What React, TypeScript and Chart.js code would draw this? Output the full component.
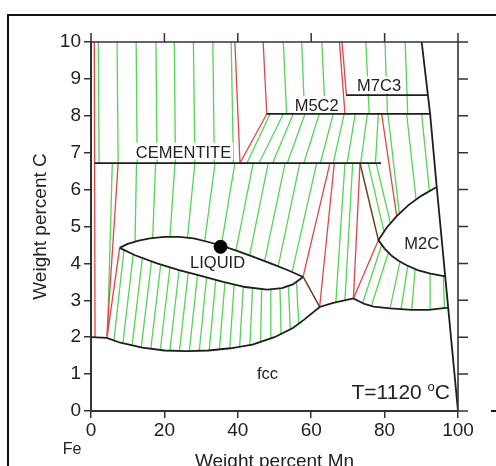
import React, { useEffect, useRef } from "react";
import { Chart, registerables } from "chart.js";

Chart.register(...registerables);

const FONT = '"Liberation Sans", Arial, Helvetica, sans-serif';

// ---- axes ----
const xTickValues = [0, 20, 40, 60, 80, 100];
const yTickValues = [0, 1, 2, 3, 4, 5, 6, 7, 8, 9, 10];
const xTitle = "Weight percent Mn";
const yTitle = "Weight percent C";
const feLabel = "Fe";
const tempLabel = ["T=1120 ", "o", "C"];

// ---- phase boundaries (black polylines) ----
const fccBoundary = [
  [0, 2.0], [4.3, 1.98], [8, 1.85], [14, 1.72], [20, 1.64], [26, 1.62], [32, 1.64],
  [38, 1.7], [44, 1.8], [50, 2.0], [55, 2.25], [58, 2.47], [62.3, 2.82], [66, 2.93],
  [71.5, 3.05], [74.5, 2.9], [77, 2.83], [81.5, 2.78], [87.4, 2.74], [92, 2.74], [97.3, 2.8],
];
const liquidUpper = [
  [7.8, 4.42], [10, 4.53], [13, 4.62], [16, 4.68], [20, 4.72], [24, 4.72], [28, 4.68],
  [32, 4.58], [35.5, 4.48], [40, 4.33], [45, 4.15], [50, 3.96], [54, 3.8], [57.8, 3.63],
];
const liquidLower = [
  [7.8, 4.42], [12, 4.22], [18, 4.0], [24, 3.82], [30, 3.66], [36, 3.5], [42, 3.36],
  [48, 3.29], [52, 3.33], [55, 3.43], [57.8, 3.63],
];
const m2cUpper = [[78.3, 4.63], [80.5, 4.96], [83.3, 5.28], [86.5, 5.58], [90, 5.83], [94.2, 6.07]];
const m2cLower = [[78.3, 4.63], [80, 4.4], [82, 4.2], [84, 4.06], [86, 3.95], [89, 3.82], [92.5, 3.72], [96.5, 3.65]];
const rightBoundary = [[90.1, 10], [92.4, 8.05], [94.2, 6.07], [100, 0]];
const cementiteLine = [[1.0, 6.72], [79.0, 6.72]];
const m5c2Line = [[47.9, 8.05], [92.4, 8.05]];
const m7c3Line = [[69.5, 8.56], [91.9, 8.56]];

// ---- three-phase triangle edges ----
const redLines = [
  [0.9, 10, 1.1, 2.0], [7.4, 6.72, 4.3, 2.0], [7.8, 4.42, 4.4, 2.02],
  [39.2, 10, 40.6, 6.72], [40.6, 6.72, 47.9, 8.05], [46.9, 10, 47.9, 8.05],
  [67.7, 10, 69.2, 8.05], [68.4, 10, 69.6, 8.56],
  [65.1, 6.72, 57.8, 3.64], [66.3, 6.72, 62.3, 2.82],
  [73.3, 6.72, 71.5, 3.05], [78.3, 4.63, 71.5, 3.05], [79.2, 8.05, 83.3, 5.28],
];
const brownLines = [[57.8, 3.64, 62.3, 2.82], [73.3, 6.72, 78.3, 4.63]];

// ---- tie lines (green) ----
const tiesGraphiteCementite = [
  [2.0, 10, 2.2, 6.72], [7.1, 10, 7.4, 6.72], [12.3, 10, 12.6, 6.72], [17.7, 10, 18.0, 6.72],
  [22.7, 10, 23.0, 6.72], [27.9, 10, 28.3, 6.72], [33.2, 10, 33.6, 6.72], [38.2, 10, 38.8, 6.72],
];
const tiesGraphiteFcc = [[5.8, 6.72, 4.5, 2.05]];
const tiesCementiteLiquid = [
  [12.4, 6.72, 12.0, 4.61], [17.6, 6.72, 16.8, 4.69], [22.9, 6.72, 21.5, 4.72],
  [28.3, 6.72, 26.3, 4.7], [33.8, 6.72, 31.0, 4.61], [39.2, 6.72, 35.5, 4.48],
  [44.2, 6.72, 39.5, 4.35], [48.3, 6.72, 43.2, 4.21], [52.9, 6.72, 47.3, 4.06],
  [56.9, 6.72, 51.0, 3.92], [61.5, 6.72, 54.8, 3.77],
];
const tiesLiquidFcc = [
  [9, 4.37, 6.2, 1.88], [11.5, 4.24, 8.7, 1.83], [14, 4.15, 11.2, 1.78], [16.5, 4.06, 13.7, 1.73],
  [19, 3.97, 16.3, 1.69], [21.5, 3.89, 18.9, 1.66], [24, 3.82, 21.5, 1.64], [26.5, 3.75, 24.1, 1.63],
  [29, 3.68, 26.8, 1.62], [31.5, 3.62, 29.5, 1.63], [34, 3.55, 32.2, 1.64], [36.5, 3.49, 35, 1.67],
  [39, 3.43, 37.8, 1.7], [41.5, 3.37, 40.5, 1.74], [44, 3.32, 43.3, 1.79], [46.5, 3.3, 46.2, 1.86],
  [49, 3.29, 49, 1.95], [51.5, 3.32, 51.8, 2.07], [53.8, 3.39, 54.3, 2.2], [56, 3.5, 56.6, 2.36],
];
const tiesM5C2Graphite = [[52.4, 10, 53.3, 8.05], [57.4, 10, 58.2, 8.05], [62.9, 10, 63.8, 8.05]];
const tiesM7C3 = [[74.9, 10, 75.8, 8.05], [80.1, 10, 80.8, 8.05], [85.6, 10, 86.3, 8.05]];
const tiesM5C2Cementite = [
  [48.8, 8.05, 42.5, 6.72], [52.4, 8.05, 45.8, 6.72], [55.1, 8.05, 49.5, 6.72],
  [58.3, 8.05, 53.5, 6.72], [62.2, 8.05, 58.0, 6.72], [66.0, 8.05, 62.5, 6.72],
  [69.0, 8.05, 66.0, 6.72], [72.0, 8.05, 69.8, 6.72], [75.3, 8.05, 73.5, 6.72],
  [78.3, 8.05, 77.5, 6.72],
];
const tiesFccCementite = [[69.2, 6.72, 66.7, 2.93], [71.3, 6.72, 69.2, 3.0]];
const tiesCementiteM2C = [[75.5, 6.72, 79.8, 4.88], [77.7, 6.72, 81.6, 5.08]];
const tiesM5C2M2C = [[80.9, 8.05, 84.0, 5.37], [86.0, 8.05, 88.6, 5.72], [90.1, 8.05, 92.2, 5.96]];
const tiesFccM2C = [
  [74.0, 2.92, 79.2, 4.5], [76.5, 2.88, 81.0, 4.28], [81.5, 2.78, 84.2, 4.05],
  [84.5, 2.76, 86.3, 3.94], [87.4, 2.74, 88.3, 3.85], [92.4, 2.74, 92.4, 3.72], [96.3, 2.79, 96.0, 3.65],
];

// ---- annotations ----
const phaseNames = ["CEMENTITE", "M5C2", "M7C3", "LIQUID", "M2C", "fcc"];
const phaseAt = [[25.2, 7.03], [61.5, 8.29], [78.5, 8.82], [34.5, 4.04], [90.1, 4.54], [48.1, 1.02]];
const phaseWhiteBox = [true, true, true, false, false, false];
const alloyPoint = [{ x: 35.3, y: 4.45 }];
const tempAt = [84.4, 0.52];

function segs(list: number[][]) {
  const out: any[] = [];
  list.forEach((s) => {
    out.push({ x: s[0], y: s[1] });
    out.push({ x: s[2], y: s[3] });
    out.push({ x: s[2], y: null });
  });
  return out;
}
function polys(list: number[][][]) {
  const out: any[] = [];
  list.forEach((p) => {
    p.forEach((q) => out.push({ x: q[0], y: q[1] }));
    out.push({ x: p[p.length - 1][0], y: null });
  });
  return out;
}

const decor = {
  id: "decor",
  afterDatasetsDraw(chart: any) {
    const ctx = chart.ctx;
    const xs = chart.scales.x;
    const ys = chart.scales.y;
    ctx.save();
    const size = 16.5;
    ctx.font = `${size}px ${FONT}`;
    ctx.textAlign = "center";
    ctx.textBaseline = "alphabetic";
    phaseNames.forEach((name, i) => {
      const px = xs.getPixelForValue(phaseAt[i][0]);
      const py = ys.getPixelForValue(phaseAt[i][1]);
      const w = ctx.measureText(name).width;
      const cap = size * 0.72;
      if (phaseWhiteBox[i]) {
        ctx.fillStyle = "#fff";
        ctx.fillRect(px - w / 2 - 2, py - cap / 2 - 3, w + 4, cap + 5);
      }
      ctx.fillStyle = "#222";
      ctx.fillText(name, px, py + cap / 2);
    });
    ctx.restore();
  },
  afterDraw(chart: any) {
    const ctx = chart.ctx;
    const a = chart.chartArea;
    const xs = chart.scales.x;
    const ys = chart.scales.y;
    ctx.save();
    // outer frame
    ctx.strokeStyle = "#111";
    ctx.lineWidth = 2;
    ctx.beginPath();
    ctx.moveTo(8, 470);
    ctx.lineTo(8, 15);
    ctx.lineTo(500, 15);
    ctx.stroke();
    ctx.beginPath();
    ctx.moveTo(491, 411);
    ctx.lineTo(496, 411);
    ctx.stroke();
    // top and right axes
    ctx.strokeStyle = "#333";
    ctx.lineWidth = 1.6;
    ctx.beginPath();
    ctx.moveTo(a.left, a.top);
    ctx.lineTo(a.right, a.top);
    ctx.lineTo(a.right, a.bottom);
    ctx.stroke();
    ctx.lineWidth = 1.5;
    ctx.beginPath();
    xTickValues.forEach((v) => {
      const px = xs.getPixelForValue(v);
      ctx.moveTo(px, a.top);
      ctx.lineTo(px, a.top - 9);
    });
    yTickValues.forEach((v) => {
      const py = ys.getPixelForValue(v);
      ctx.moveTo(a.right, py);
      ctx.lineTo(a.right + 10, py);
    });
    ctx.stroke();
    // titles
    ctx.fillStyle = "#222";
    ctx.font = `19px ${FONT}`;
    ctx.textAlign = "center";
    ctx.textBaseline = "alphabetic";
    ctx.fillText(xTitle, (a.left + a.right) / 2, 467);
    ctx.save();
    ctx.translate(46, (a.top + a.bottom) / 2);
    ctx.rotate(-Math.PI / 2);
    ctx.fillText(yTitle, 0, 0);
    ctx.restore();
    // Fe
    ctx.font = `16px ${FONT}`;
    ctx.fillText(feLabel, 72, 454);
    // temperature
    const big = `21px ${FONT}`;
    const small = `13px ${FONT}`;
    ctx.font = big;
    const w1 = ctx.measureText(tempLabel[0]).width;
    const w3 = ctx.measureText(tempLabel[2]).width;
    ctx.font = small;
    const w2 = ctx.measureText(tempLabel[1]).width;
    const cx = xs.getPixelForValue(tempAt[0]);
    const base = ys.getPixelForValue(tempAt[1]) + 7.3;
    let x0 = cx - (w1 + w2 + w3) / 2;
    ctx.textAlign = "left";
    ctx.font = big;
    ctx.fillText(tempLabel[0], x0, base);
    x0 += w1;
    ctx.font = small;
    ctx.fillText(tempLabel[1], x0, base - 8);
    x0 += w2;
    ctx.font = big;
    ctx.fillText(tempLabel[2], x0, base);
    ctx.restore();
  },
};

const GREEN = "#55d455";
const RED = "#e04545";

export default function App() {
  const ref = useRef<HTMLCanvasElement | null>(null);
  useEffect(() => {
    if (!ref.current) return;
    const green = [
      ...tiesGraphiteCementite, ...tiesGraphiteFcc, ...tiesCementiteLiquid, ...tiesLiquidFcc,
      ...tiesM5C2Graphite, ...tiesM7C3, ...tiesM5C2Cementite, ...tiesFccCementite,
      ...tiesCementiteM2C, ...tiesM5C2M2C, ...tiesFccM2C,
    ];
    const base = { showLine: true, pointRadius: 0, spanGaps: false, fill: false, tension: 0 };
    const chart = new Chart(ref.current, {
      type: "scatter",
      data: {
        datasets: [
          { ...base, data: segs(green), borderColor: GREEN, borderWidth: 1.3, order: 5 } as any,
          { ...base, data: segs(redLines), borderColor: RED, borderWidth: 1.3, order: 4 } as any,
          { ...base, data: segs(brownLines), borderColor: "#6a4522", borderWidth: 1.5, order: 3 } as any,
          {
            ...base,
            data: polys([fccBoundary, liquidUpper, liquidLower, m2cUpper, m2cLower, rightBoundary, cementiteLine, m5c2Line, m7c3Line]),
            borderColor: "#1e1e1e",
            borderWidth: 1.8,
            order: 2,
          } as any,
          { data: alloyPoint, showLine: false, pointRadius: 6.5, backgroundColor: "#000", borderColor: "#000", order: 1 } as any,
        ],
      },
      options: {
        responsive: false,
        animation: false,
        devicePixelRatio: 1,
        events: [],
        layout: { padding: { top: 42, right: 38, left: 0, bottom: 0 } },
        plugins: { legend: { display: false }, tooltip: { enabled: false } },
        scales: {
          x: {
            type: "linear",
            min: 0,
            max: 100,
            afterBuildTicks: (s: any) => {
              s.ticks = xTickValues.map((v) => ({ value: v }));
            },
            afterFit: (s: any) => {
              s.height = 55;
            },
            ticks: { font: { family: FONT, size: 19 }, color: "#222", padding: 1, maxRotation: 0, autoSkip: false },
            grid: { display: true, drawOnChartArea: false, drawTicks: true, tickLength: 7, color: "#333", lineWidth: 1.5 },
            border: { display: true, color: "#333", width: 2 },
          },
          y: {
            type: "linear",
            min: 0,
            max: 10,
            afterBuildTicks: (s: any) => {
              s.ticks = yTickValues.map((v) => ({ value: v }));
            },
            afterFit: (s: any) => {
              s.width = 91;
            },
            ticks: { font: { family: FONT, size: 19 }, color: "#222", padding: 3, autoSkip: false },
            grid: { display: true, drawOnChartArea: false, drawTicks: true, tickLength: 7, color: "#333", lineWidth: 1.5 },
            border: { display: true, color: "#333", width: 2 },
          },
        },
      } as any,
      plugins: [decor],
    });
    return () => chart.destroy();
  }, []);
  return (
    <div style={{ position: "fixed", left: 0, top: 0, width: 496, height: 466, background: "#fff" }}>
      <canvas ref={ref} width={496} height={466} style={{ display: "block", width: 496, height: 466 }} />
    </div>
  );
}
